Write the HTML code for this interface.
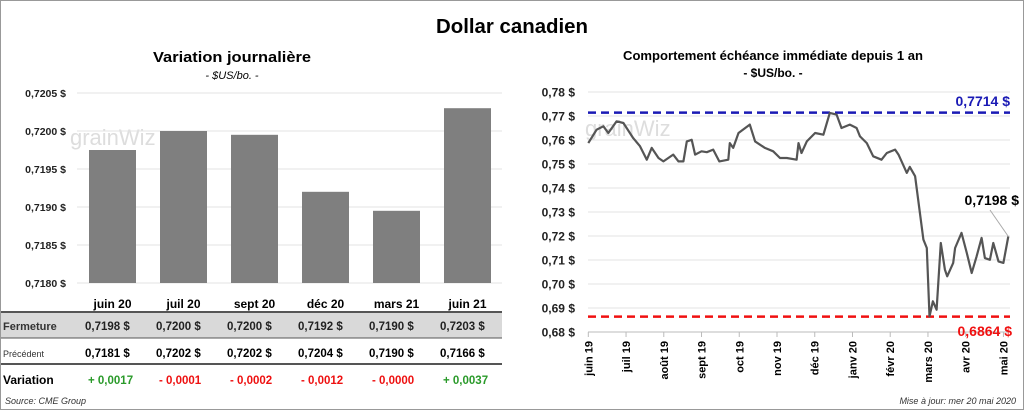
<!DOCTYPE html>
<html><head><meta charset="utf-8">
<style>
body{margin:0;background:#fff;}
svg{display:block;font-family:"Liberation Sans",sans-serif;}
</style></head>
<body>
<svg id="s" width="1024" height="410" viewBox="0 0 1024 410">
<rect x="0.5" y="0.5" width="1023" height="409" fill="#fff" stroke="#999"/>
<text x="512" y="33" text-anchor="middle" font-size="20" font-weight="bold" textLength="152" lengthAdjust="spacingAndGlyphs">Dollar canadien</text>
<text x="232" y="62" text-anchor="middle" font-size="15" font-weight="bold" textLength="158" lengthAdjust="spacingAndGlyphs">Variation  journalière</text>
<text x="232" y="79" text-anchor="middle" font-size="11" font-style="italic">- $US/bo. -</text>
<text x="773" y="60" text-anchor="middle" font-size="13" font-weight="bold" textLength="300" lengthAdjust="spacingAndGlyphs">Comportement échéance immédiate depuis 1 an</text>
<text x="773" y="77" text-anchor="middle" font-size="12" font-weight="bold">- $US/bo. -</text>
<g id="left"></g>
<g id="right"></g>
<text x="5" y="404" font-size="9" font-style="italic" fill="#333">Source: CME Group</text>
<text x="1016" y="404" text-anchor="end" font-size="9" font-style="italic" fill="#333">Mise à jour: mer 20 mai 2020</text>
</svg>
<script>
const NS="http://www.w3.org/2000/svg";
function mk(p,tag,a,txt){const e=document.createElementNS(NS,tag);for(const k in a)e.setAttribute(k,a[k]);if(txt!==undefined)e.textContent=txt;p.appendChild(e);return e;}

// ---- Left bar chart data ----
const barCats=["juin 20","juil 20","sept 20","déc 20","mars 21","juin 21"];
const barVals=[0.71975,0.7200,0.71995,0.7192,0.71895,0.7203];
const barTicks=[0.7180,0.7185,0.7190,0.7195,0.7200,0.7205];
const closeVals=["0,7198","0,7200","0,7200","0,7192","0,7190","0,7203"];
const prevVals=["0,7181","0,7202","0,7202","0,7204","0,7190","0,7166"];
const varVals=["+ 0,0017","- 0,0001","- 0,0002","- 0,0012","- 0,0000","+ 0,0037"];

// ---- Right line chart data ----
const monthLabels=["juin 19","juil 19","août 19","sept 19","oct 19","nov 19","déc 19","janv 20","févr 20","mars 20","avr 20","mai 20"];
const lineTicks=[0.68,0.69,0.70,0.71,0.72,0.73,0.74,0.75,0.76,0.77,0.78];
const lineMonths=[0,0.22,0.40,0.53,0.75,0.93,1.19,1.37,1.55,1.68,1.86,1.99,2.25,2.39,2.52,2.61,2.74,2.83,3.00,3.14,3.31,3.47,3.71,3.75,3.84,3.98,4.28,4.42,4.68,4.90,5.08,5.26,5.52,5.57,5.65,5.79,6.01,6.23,6.40,6.58,6.71,6.93,7.11,7.20,7.38,7.55,7.77,7.91,8.13,8.22,8.44,8.52,8.66,8.88,8.97,9.04,9.13,9.23,9.34,9.45,9.51,9.67,9.72,9.89,10.03,10.16,10.29,10.42,10.51,10.64,10.73,10.87,11.0,11.13];
const lineVals=[.7587,.7643,.7657,.7629,.7678,.7671,.7608,.7574,.7518,.7567,.7525,.7511,.7539,.7511,.7511,.7594,.7601,.7539,.7553,.7549,.7560,.7511,.7518,.7587,.7567,.7629,.7664,.7594,.7567,.7553,.7525,.7525,.7518,.7587,.7546,.7594,.7629,.7622,.7713,.7706,.7650,.7664,.7650,.7615,.7587,.7532,.7518,.7546,.7560,.7539,.7463,.7488,.7449,.7185,.7150,.6865,.6928,.6893,.7171,.7060,.7032,.7088,.7150,.7213,.7129,.7046,.7115,.7192,.7108,.7101,.7171,.7094,.7088,.7198];
const highVal=0.7714, lowVal=0.6864, lastVal=0.7198;

// Left chart
const L=document.getElementById('left');
const ly=v=>283-(v-0.7180)/0.0025*190;
const bandW=71, bx0=77;
const fmt4=v=>v.toFixed(4).replace('.',',')+' $';
mk(L,'text',{x:70,y:145,'font-size':22,fill:'#ddd',},'grainWiz');
barTicks.forEach(t=>{
  const y=ly(t);
  const g=mk(L,'line',{x1:77,x2:502,y1:y,y2:y,stroke:'#e3e3e3'});
  
  const tx=mk(L,'text',{x:66,y:y+4,'text-anchor':'end','font-size':10.5,'font-weight':'bold',fill:'#222'},fmt4(t));
  
});
barVals.forEach((v,i)=>{
  const x=bx0+i*bandW+12;
  const r=mk(L,'rect',{x:x,y:ly(v),width:47,height:283-ly(v),fill:'#7f7f7f'});
  
  const c=mk(L,'text',{x:x+23.5,y:308,'text-anchor':'middle','font-size':12,'font-weight':'bold'},barCats[i]);
  
});
// table
const bg=mk(L,'rect',{x:1,y:313,width:501,height:25,fill:'#d9d9d9'});

[[312,2],[338,1],[364,2]].forEach(([y,w])=>{const l=mk(L,'line',{x1:1,x2:502,y1:y,y2:y,stroke:'#555','stroke-width':w});});
const rl1=mk(L,'text',{x:3,y:330,'font-size':11,'font-weight':'bold',fill:'#333'},'Fermeture');
const rl2=mk(L,'text',{x:3,y:357,'font-size':9,fill:'#333'},'Précédent');
const rl3=mk(L,'text',{x:3,y:384,'font-size':12,'font-weight':'bold'},'Variation');
barCats.forEach((c,i)=>{
  const x=bx0+i*bandW;
  const a=mk(L,'text',{x:x+8,y:330,'font-size':11.5,'font-weight':'bold',fill:'#222'},closeVals[i]+'  $');
  
  const b=mk(L,'text',{x:x+8,y:357,'font-size':11.5,'font-weight':'bold'},prevVals[i]+'  $');
  
  const d=mk(L,'text',{x:x+11,y:384,'font-size':11.5,'font-weight':'bold',fill:varVals[i][0]=='+'?'#2a9a2a':'#ee1111'},varVals[i]);
  
});

// Right chart
const R=document.getElementById('right');
const ry=v=>332-(v-0.68)/0.10*240;
const rx=m=>588.3+m*37.74;
mk(R,'text',{x:585,y:136,'font-size':22,fill:'#ddd',},'grainWiz');
lineTicks.forEach(t=>{
  const y=ry(t);
  const g=mk(R,'line',{x1:588,x2:1010,y1:y,y2:y,stroke:'#e3e3e3'});
  
  const tx=mk(R,'text',{x:575,y:y+4.5,'text-anchor':'end','font-size':12,'font-weight':'bold',fill:'#222'},t.toFixed(2).replace('.',',')+' $');
  
});
const ax=mk(R,'line',{x1:588,x2:1010,y1:332,y2:332,stroke:'#bbb'});
monthLabels.forEach((m,i)=>{
  const x=rx(i);
  const tk=mk(R,'line',{x1:x,x2:x,y1:332,y2:337,stroke:'#bbb'});
  
  const t=mk(R,'text',{x:x+4,y:341,'text-anchor':'end','font-size':11,'font-weight':'bold',transform:`rotate(-90 ${x+4} 341)`},m);
  
});
const hl=mk(R,'line',{x1:588,x2:1010,y1:ry(highVal),y2:ry(highVal),stroke:'#1a1ab5','stroke-width':2.5,'stroke-dasharray':'8,5'});

const ll=mk(R,'line',{x1:588,x2:1010,y1:ry(lowVal),y2:ry(lowVal),stroke:'#f01010','stroke-width':2.5,'stroke-dasharray':'8,5'});

const pts=lineMonths.map((m,i)=>rx(m).toFixed(1)+','+ry(lineVals[i]).toFixed(1)).join(' ');
const pl=mk(R,'polyline',{points:pts,fill:'none',stroke:'#555','stroke-width':2.2,'stroke-linejoin':'round'});

const hlab=mk(R,'text',{x:1010,y:106,'text-anchor':'end','font-size':14,'font-weight':'bold',fill:'#1a1ab5'},highVal.toFixed(4).replace('.',',')+' $');

const llab=mk(R,'text',{x:1012,y:336,'text-anchor':'end','font-size':14,'font-weight':'bold',fill:'#f01010'},lowVal.toFixed(4).replace('.',',')+' $');

const lead=mk(R,'line',{x1:990,y1:210,x2:rx(lineMonths[lineMonths.length-1]),y2:ry(lastVal),stroke:'#aaa'});

const lastl=mk(R,'text',{x:1019,y:205,'text-anchor':'end','font-size':14,'font-weight':'bold'},lastVal.toFixed(4).replace('.',',')+' $');

</script>
</body></html>
